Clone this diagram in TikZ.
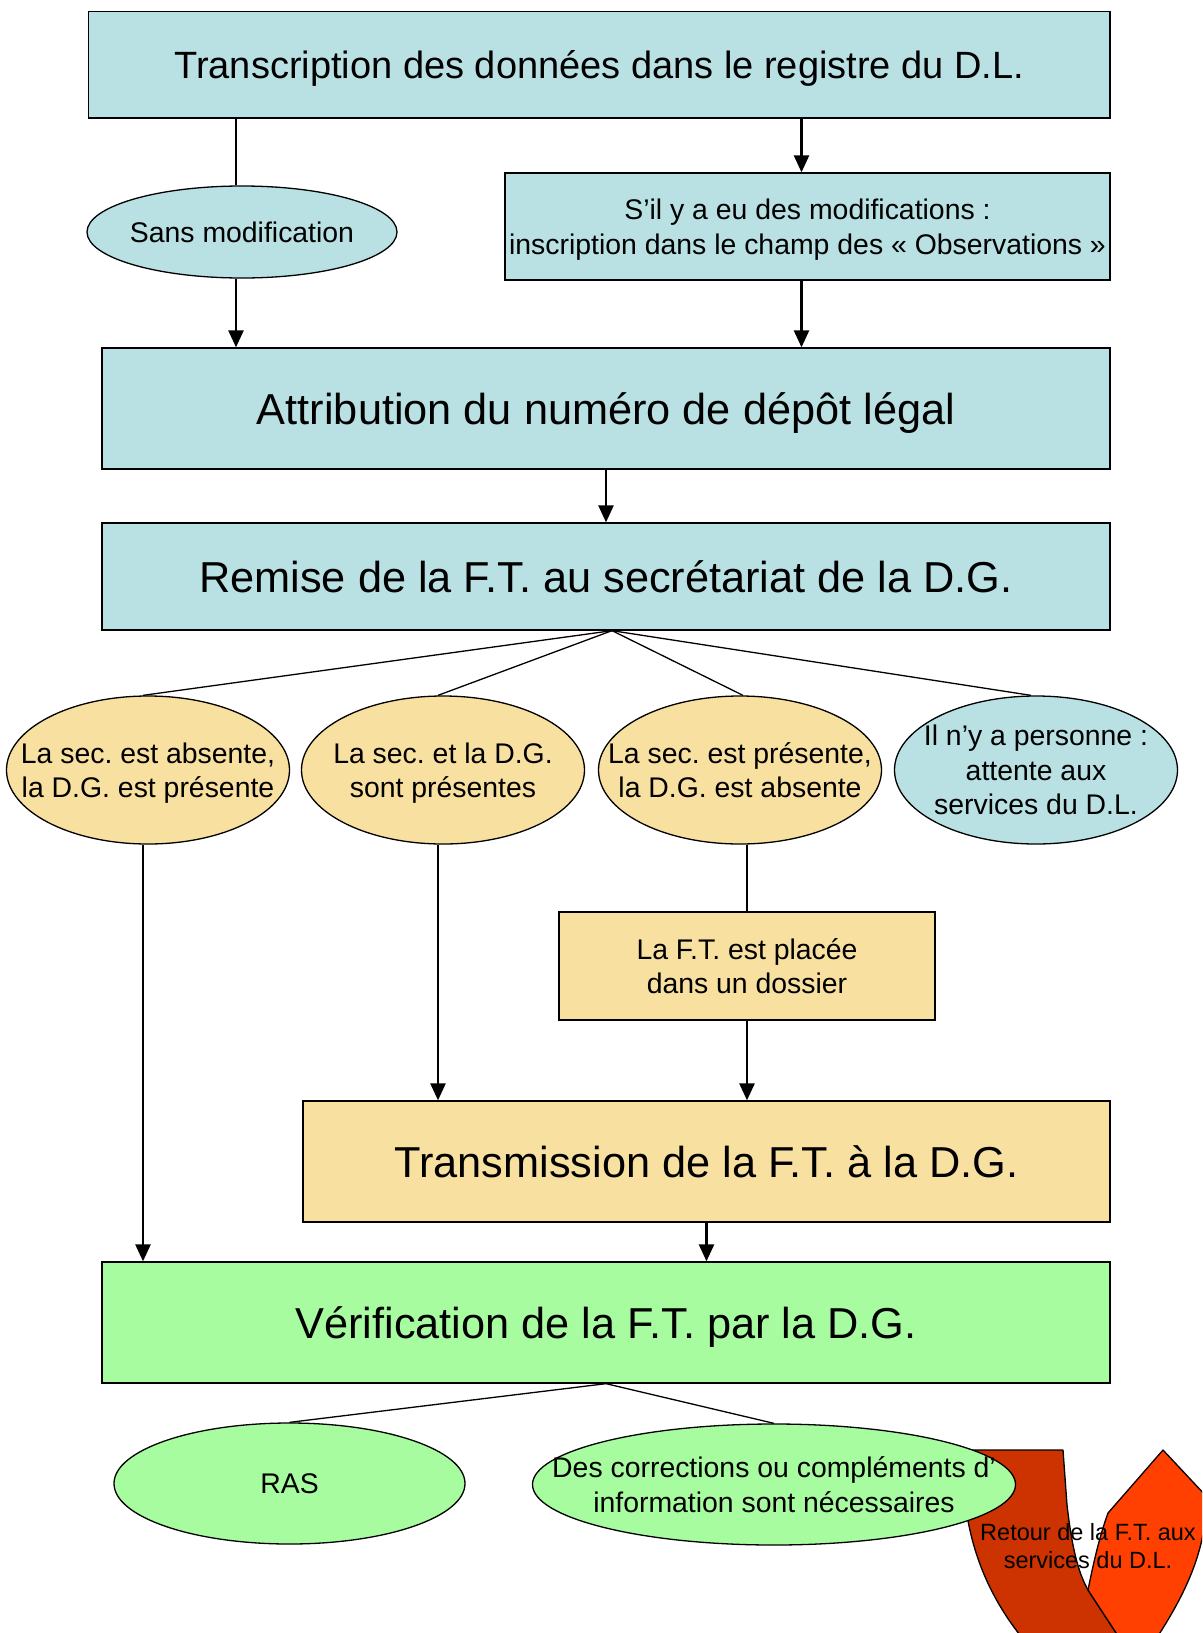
\documentclass[tikz,border=0pt]{standalone}
\usepackage{fontspec}
\setmainfont{Liberation Sans}
\usetikzlibrary{arrows.meta,shapes.geometric,calc}
\definecolor{lblue}{HTML}{B9E0E3}
\definecolor{lyel}{HTML}{F8E0A0}
\definecolor{lgreen}{HTML}{A8FCA0}
\definecolor{dred}{HTML}{CC3300}
\definecolor{orng}{HTML}{FF4000}
\begin{document}
\frenchspacing
\begin{tikzpicture}[x=1pt,y=-1pt,
  box/.style={draw=black,line width=1.3pt,rectangle,inner sep=0pt,align=center},
  ell/.style={draw=black,line width=1.3pt,ellipse,inner sep=0pt},
  big/.style={font=\fontsize{43.3}{50}\selectfont,text depth=0pt},
  med/.style={font=\fontsize{28.4}{34.5}\selectfont,align=center,text depth=0pt},
  sml/.style={font=\fontsize{23.5}{28}\selectfont,align=center},
  arr/.style={line width=2.5pt,-{Triangle[length=17pt,width=15pt]}},
  ln/.style={line width=1.3pt}]

\useasboundingbox (0,0) rectangle (1202,1633);

% U-turn arrow (clipped by the page)
\begin{scope}
\clip (0,0) rectangle (1202,1633);
\draw[line width=1.3pt,fill=dred,line join=round]
  (955,1450) -- (1063,1450) -- (1067,1505)
  .. controls (1072,1548) and (1078,1572) .. (1088,1590)
  -- (1124,1645) -- (1028,1645)
  .. controls (1000,1612) and (976,1570) .. (967,1515) -- cycle;
\draw[line width=1.3pt,fill=orng,line join=round]
  (1088,1590) .. controls (1094,1560) and (1100,1535) .. (1108,1513)
  -- (1163,1450) -- (1222,1513) -- (1206,1513)
  .. controls (1202,1560) and (1182,1600) .. (1152,1645)
  -- (1124,1645) -- cycle;
\end{scope}

% top part
\node[box,fill=lblue,minimum width=1021.5pt,minimum height=106.5pt,
      font=\fontsize{38}{44}\selectfont,text depth=0pt] (trans) at (599.25,64.75)
  {Transcription des données dans le registre du D.L.};
\node[ell,fill=lblue,minimum width=310pt,minimum height=92pt] (sans) at (242,232) {};
\node[med] (sanst) at (sans) {Sans modification};
\node[box,fill=lblue,minimum width=605pt,minimum height=107pt,med] (sil) at (807.5,226.5)
  {S’il y a eu des modifications :\\inscription dans le champ des « Observations »};
\node[box,fill=lblue,minimum width=1008pt,minimum height=121pt,big] (attr) at (606,408.5)
  {Attribution du numéro de dépôt légal};
\node[box,fill=lblue,minimum width=1008pt,minimum height=107pt,big] (remise) at (606,576.5)
  {Remise de la F.T. au secrétariat de la D.G.};

% cases
\node[ell,fill=lyel,minimum width=283pt,minimum height=148pt] (e1) at (148,770) {};
\node[med] (e1t) at (e1) {La sec. est absente,\\la D.G. est présente};
\node[ell,fill=lyel,minimum width=283pt,minimum height=148pt] (e2) at (443,770) {};
\node[med] (e2t) at (e2) {La sec. et la D.G.\\sont présentes};
\node[ell,fill=lyel,minimum width=283pt,minimum height=148pt] (e3) at (740,770) {};
\node[med] (e3t) at (e3) {La sec. est présente,\\la D.G. est absente};
\node[ell,fill=lblue,minimum width=283pt,minimum height=148pt] (e4) at (1036,770) {};
\node[med] (e4t) at (e4) {Il n’y a personne :\\attente aux\\services du D.L.};

\node[box,fill=lyel,minimum width=376pt,minimum height=108pt,med] (placee) at (747,966)
  {La F.T. est placée\\dans un dossier};
\node[box,fill=lyel,minimum width=807pt,minimum height=121pt,big] (transm) at (706.5,1161.5)
  {Transmission de la F.T. à la D.G.};
\node[box,fill=lgreen,minimum width=1008pt,minimum height=121pt,big] (verif) at (606,1322.5)
  {Vérification de la F.T. par la D.G.};

\node[ell,fill=lgreen,minimum width=351pt,minimum height=121pt] (ras) at (289.5,1483.5) {};
\node[med] (rast) at (ras) {RAS};
\node[ell,fill=lgreen,minimum width=483pt,minimum height=121pt] (corr) at (774,1484.5) {};
\node[med] (corrt) at (corr) {Des corrections ou compléments d’\\information sont nécessaires};

\node[sml] (ret) at (1088,1546) {Retour de la F.T. aux\\services du D.L.};

% connectors
\draw[ln] ($(trans.south -| sans.north)+(-6,0)$) -- ($(sans.north)+(-6,0)$);
\draw[arr] ($(trans.south -| sil.north)+(-6,0)$) -- ($(sil.north)+(-6,0)$);
\draw[arr] ($(sans.south)+(-6,0)$) -- ($(sans.south |- attr.north)+(-6,0)$);
\draw[arr] ($(sil.south)+(-6,0)$) -- ($(sil.south |- attr.north)+(-6,0)$);
\draw[arr] (attr.south) -- (remise.north);
\draw[ln] ($(remise.south)+(6,0)$) -- ($(e1.north)+(-5,0)$);
\draw[ln] ($(remise.south)+(6,0)$) -- ($(e2.north)+(-5,0)$);
\draw[ln] ($(remise.south)+(6,0)$) -- ($(e3.north)+(3,0)$);
\draw[ln] ($(remise.south)+(6,0)$) -- ($(e4.north)+(-5,0)$);
\draw[arr] ($(e1.south)+(-5,0)$) -- ($(e1.south |- verif.north)+(-5,0)$);
\draw[arr] ($(e2.south)+(-5,0)$) -- ($(e2.south |- transm.north)+(-5,0)$);
\draw[ln] (placee.north |- e3.south) -- (placee.north);
\draw[arr] (placee.south) -- (placee.south |- transm.north);
\draw[arr] (transm.south) -- (transm.south |- verif.north);
\draw[ln] (verif.south) -- (ras.north);
\draw[ln] (verif.south) -- (corr.north);
\end{tikzpicture}
\end{document}
